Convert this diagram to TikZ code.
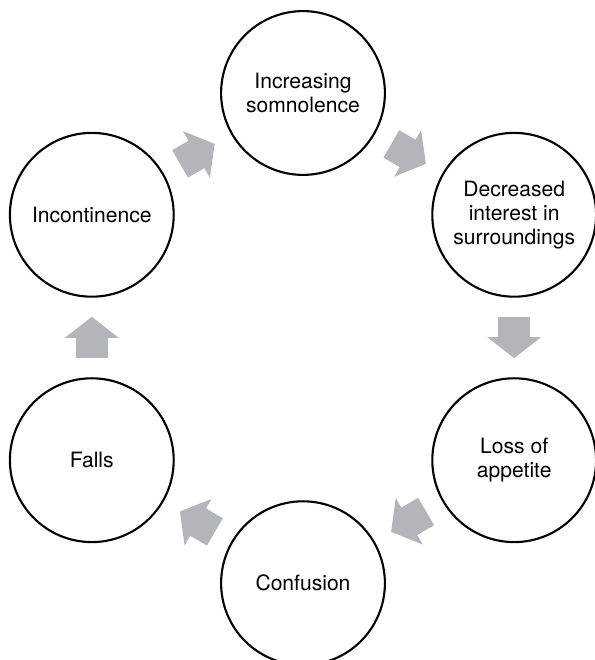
\documentclass[tikz,border=0pt]{standalone}
\usepackage{fontspec}
\setmainfont{TeX Gyre Heros}
\usepackage{tkz-graph}
\usetikzlibrary{arrows.meta}
\definecolor{arrowgray}{RGB}{180,181,186}

\begin{document}
\begin{tikzpicture}
[every node/.style={circle,draw,line width=1pt,minimum size=2.73cm,inner sep=0pt,align=center,font=\fontsize{10}{11.4}\selectfont}]
\useasboundingbox (0,0) rectangle (9.9,11);
\node (somn) at (5.05,9.45) {Increasing\\somnolence};
\node (intr) at (8.57,7.42) {Decreased\\interest in\\surroundings};
\node (appt) at (8.57,3.33) {Loss of\\appetite};
\node (conf) at (5.05,1.28) {Confusion};
\node (fall) at (1.53,3.33) {Falls};
\node (inco) at (1.53,7.42) {Incontinence};
\tikzset{EdgeStyle/.style={draw=arrowgray,line width=15pt,shorten <=9pt,shorten >=9pt,-{Triangle[length=10pt 0 0,width=25pt 0 0]}}}
\Edge(inco)(somn)
\Edge(somn)(intr)
\Edge(intr)(appt)
\Edge(appt)(conf)
\Edge(conf)(fall)
\Edge(fall)(inco)
\end{tikzpicture}
\end{document}
